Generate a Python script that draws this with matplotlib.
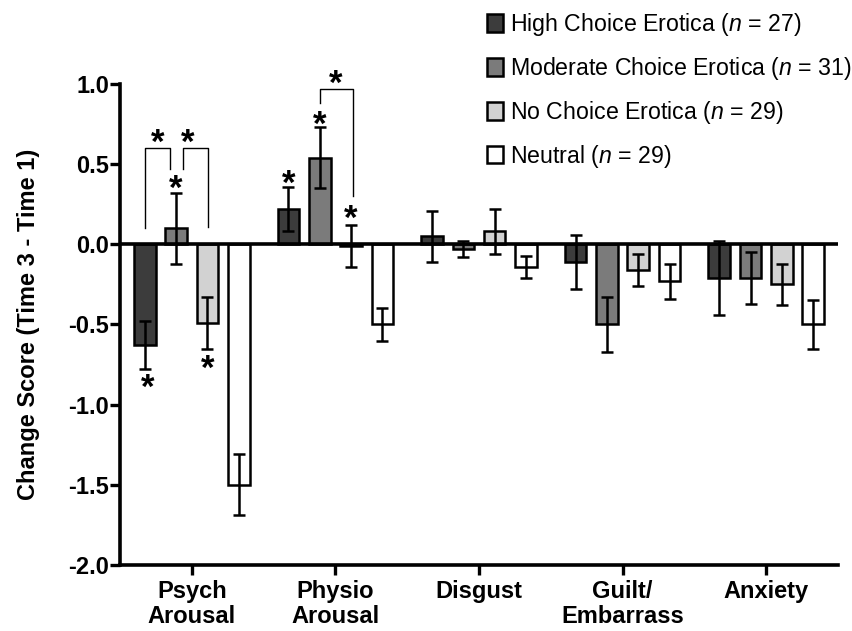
import numpy as np
import matplotlib
matplotlib.use('Agg')
import matplotlib.pyplot as plt

plt.rcParams['font.family'] = ['Liberation Sans', 'DejaVu Sans']
plt.rcParams['mathtext.fontset'] = 'custom'
plt.rcParams['mathtext.it'] = 'Liberation Sans:italic'
plt.rcParams['mathtext.rm'] = 'Liberation Sans'

# Data
categories = ['Psych\nArousal', 'Physio\nArousal', 'Disgust', 'Guilt/\nEmbarrass', 'Anxiety']
groups = ['High Choice Erotica', 'Moderate Choice Erotica', 'No Choice Erotica', 'Neutral']
group_n = [27, 31, 29, 29]
high_mean = [-0.63, 0.22, 0.05, -0.11, -0.21]
high_err = [0.15, 0.14, 0.16, 0.17, 0.23]
moderate_mean = [0.10, 0.54, -0.03, -0.50, -0.21]
moderate_err = [0.22, 0.19, 0.05, 0.17, 0.16]
nochoice_mean = [-0.49, -0.01, 0.08, -0.16, -0.25]
nochoice_err = [0.16, 0.13, 0.14, 0.10, 0.13]
neutral_mean = [-1.50, -0.50, -0.14, -0.23, -0.50]
neutral_err = [0.19, 0.10, 0.07, 0.11, 0.15]

means = [high_mean, moderate_mean, nochoice_mean, neutral_mean]
errs = [high_err, moderate_err, nochoice_err, neutral_err]
colors = ['#3c3c3c', '#7b7b7b', '#d2d2d2', '#ffffff']

fig = plt.figure(figsize=(8.53, 6.31), dpi=100)
ax = fig.add_axes([0.1407, 0.1046, 0.9824 - 0.1407, 0.8669 - 0.1046])

x = np.arange(len(categories))
step = 0.218
width = 0.15
for i in range(4):
    pos = x + (i - 1.5) * step
    ax.bar(pos, means[i], width, color=colors[i], edgecolor='black', linewidth=1.8,
           label=f'{groups[i]} ($\\mathit{{n}}$ = {group_n[i]})', zorder=2)
    ax.errorbar(pos, means[i], yerr=errs[i], fmt='none', ecolor='black',
                elinewidth=1.8, capsize=4.3, capthick=1.8, zorder=3)

ax.axhline(0, color='black', linewidth=2.6, zorder=4)

ax.set_xlim(-0.5, 4.5)
ax.set_ylim(-2.0, 1.0)
ax.set_yticks(np.arange(-2.0, 1.01, 0.5))
ax.set_yticklabels([f'{v:.1f}' for v in np.arange(-2.0, 1.01, 0.5)])
ax.set_xticks(x)
ax.set_xticklabels(categories, fontweight='bold', fontsize=17, linespacing=1.08)
for lab in ax.get_yticklabels():
    lab.set_fontweight('bold')
    lab.set_fontsize(17)
ax.tick_params(axis='both', direction='out', length=7, width=2.4, colors='black')
ax.tick_params(axis='y', pad=1)
ax.tick_params(axis='x', pad=4)
for side in ['top', 'right']:
    ax.spines[side].set_visible(False)
for side in ['left', 'bottom']:
    ax.spines[side].set_linewidth(2.6)
ax.set_ylabel('Change Score (Time 3 - Time 1)', fontweight='bold', fontsize=17, labelpad=20)

# significance brackets and stars
bk = dict(color='black', linewidth=1.0, clip_on=False, zorder=5)
ax.plot([-0.327, -0.327, -0.150, -0.150], [0.10, 0.60, 0.60, 0.47], **bk)
ax.plot([-0.063, -0.063, 0.115, 0.115], [0.47, 0.60, 0.60, 0.11], **bk)
ax.plot([0.891, 0.891, 1.120, 1.120], [0.88, 0.97, 0.97, 0.30], **bk)
stars = [(-0.235, 0.63), (-0.030, 0.63), (-0.109, 0.34), (-0.31, -0.90), (0.109, -0.78),
         (0.673, 0.375), (0.891, 0.745), (1.109, 0.155), (1.005, 0.995)]
for sx, sy in stars:
    ax.text(sx, sy, '*', ha='center', va='center', fontsize=25, fontweight='bold',
            clip_on=False, zorder=6)

fig.legend(loc='upper left', bbox_to_anchor=(0.547, 1.015), frameon=False, fontsize=16.7,
           handlelength=0.65, handleheight=0.8, handletextpad=0.3, labelspacing=0.72)

fig.savefig('out.png', dpi=100)
